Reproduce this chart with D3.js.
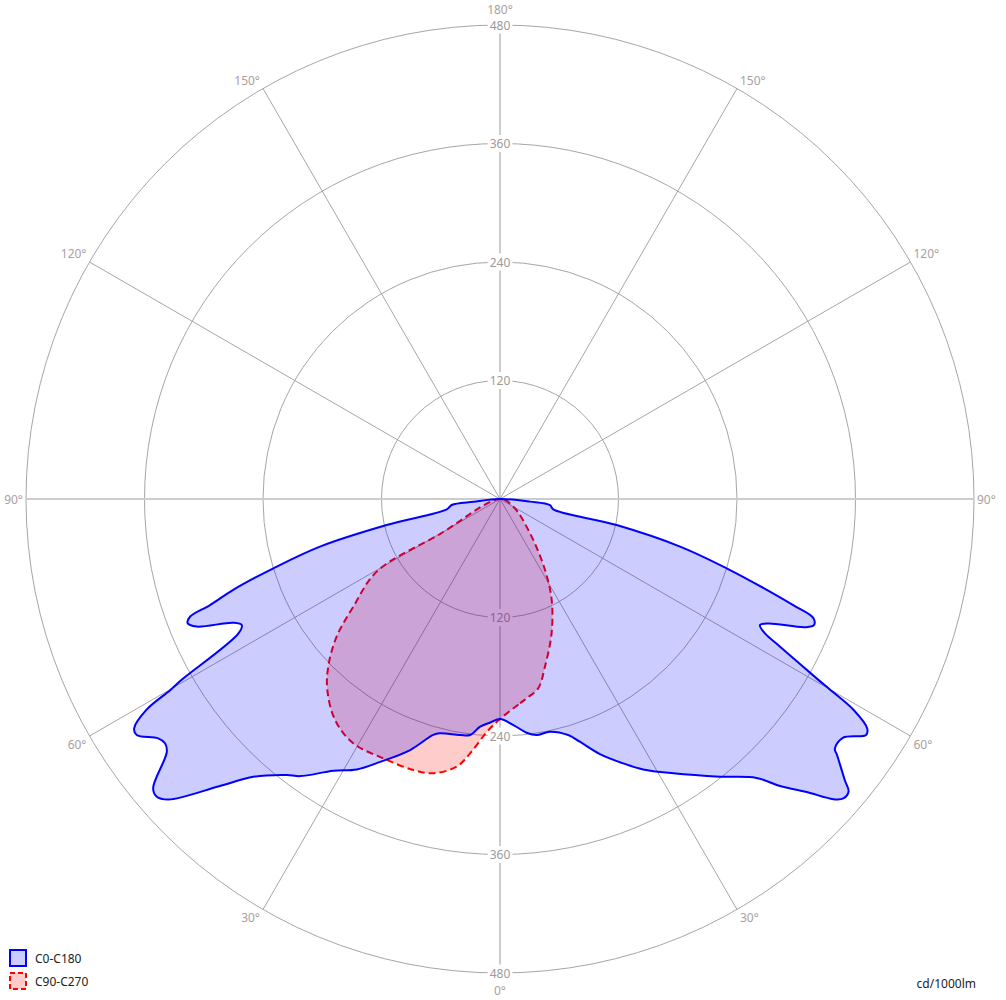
<!DOCTYPE html>
<html>
<head>
<meta charset="utf-8">
<script src="https://cdn.jsdelivr.net/npm/d3@7"></script>
<style>
  body { margin: 0; background: #fff; }
  svg text { font-family: "Noto Sans", "Open Sans", sans-serif; }
</style>
</head>
<body>
<svg id="chart" width="1006" height="1000"></svg>
<script>
// gamma angle in degrees (0 = straight down), intensity in cd/1000lm

// C0 plane (right half of the blue curve)
var c0Gamma  = [0, 3.4, 6.5, 8.8, 12.1, 16.1, 18.2, 21.4, 25, 27.9, 32.3, 38.4, 42.6, 44.3, 46.3, 48, 48.9, 50, 50.8,
                52.8, 53.3, 55.2, 57.2, 58, 59.2, 60, 60.4, 62.2, 63.1, 64.1, 65.1, 67.2, 68.1, 69.2, 70.1, 71.2,
                73, 75.2, 77.4, 79, 83, 85, 90];
var c0Values = [222.8, 229.3, 238.2, 241.9, 241, 248.8, 258.7, 277.4, 295.4, 309.9, 328.6, 358.8, 383.7, 406.1, 429.4, 454.3, 461.3, 460.8, 450.6,
                428.4, 422.9, 423.2, 441, 438.5, 416.7, 385.7, 370.8, 320.6, 300.9, 292.6, 299.4, 335.1, 342.6, 339.4, 315.8, 285.4,
                240, 188.6, 121, 55, 51, 30.5, 0];

// C180 plane (left half of the blue curve)
var c180Gamma  = [0, 2.5, 5, 7.2, 9.6, 14.4, 15.8, 19.7, 24.5, 27.9, 31.5, 35.8, 37.7, 41.6, 44.3, 47.8, 49.1, 50.2,
                  52.8, 53.9, 55, 57, 57.9, 59.2, 59.9, 60.4, 62.8, 64, 65.1, 67.2, 68.3, 69.2, 69.9, 71.2,
                  73, 75.2, 77.1, 79, 82.9, 84, 90];
var c180Values = [222.8, 226.5, 231.4, 240.9, 242.4, 245, 248.3, 270, 292.5, 309.9, 322.8, 346, 353.2, 376.1, 406.1, 453.2, 460.2, 457.2,
                  423.6, 419.8, 422.5, 438.7, 437.4, 416.7, 386.1, 370.8, 297.8, 291, 297.7, 333.3, 340.4, 335.8, 312.7, 285.4,
                  240, 188.6, 117.8, 55, 49.3, 27.1, 0];

// C90 plane (right half of the red curve)
var c90Gamma  = [0, 5.6, 7.6, 11.4, 15, 21, 27.1, 32.4, 41.2, 60, 90];
var c90Values = [222.8, 207.9, 203.6, 195.6, 175.8, 145.7, 114.9, 85.1, 46.2, 15.6, 0];

// C270 plane (left half of the red curve)
var c270Gamma  = [0, 3.3, 6.7, 9.2, 13.7, 17.7, 24.2, 31, 36.7, 42.1, 45.7, 49.9, 53.7, 59.5, 59.7, 90];
var c270Values = [222.8, 236.6, 259.3, 274.6, 285.9, 288.1, 288, 288.6, 279.3, 260.8, 243, 216.3, 184.3, 144.9, 70, 0];

var ringTicks = [120, 240, 360, 480];
var spokeAngles = [0, 30, 60, 90, 120, 150];
var angleLabels = [0, 30, 60, 90, 120, 150, 180];
var seriesNames = ["C0-C180", "C90-C270"];
var unitLabel = "cd/1000lm";

var cx = 500, cy = 499, R = 474;
var svg = d3.select("#chart");

var r = d3.scaleLinear().domain([0, 480]).range([0, R]);
var rad = function (deg) { return deg * Math.PI / 180; };

// convert gamma (0 = down) to screen xy, side +1 right, -1 left
function xy(g, v, side) {
    var rr = r(v);
    return [cx + side * rr * Math.sin(rad(g)), cy + rr * Math.cos(rad(g))];
}

// build one closed outline from a right and a left half-plane
// (left half skips its first and last point, they are shared with the right half)
function outline(gR, vR, gL, vL) {
    var pts = [];
    gR.forEach(function (g, i) { pts.push({ a: Math.PI - rad(g), v: vR[i] }); });
    for (var i = gL.length - 2; i >= 1; i--) {
        pts.push({ a: Math.PI + rad(gL[i]), v: vL[i] });
    }
    return pts;
}

var grid = svg.append("g");

// circles
grid.selectAll("circle").data(ringTicks).enter().append("circle")
    .attr("cx", cx).attr("cy", cy)
    .attr("r", function (d) { return r(d); })
    .attr("fill", "none").attr("stroke", "#a6a6a6").attr("stroke-width", 1);

// spokes through the centre
spokeAngles.forEach(function (a) {
    var p1 = xy(a, 480, 1), p2 = xy(a + 180, 480, 1);
    var main = (a === 0 || a === 90);
    grid.append("line")
        .attr("x1", p1[0]).attr("y1", p1[1]).attr("x2", p2[0]).attr("y2", p2[1])
        .attr("stroke", main ? "#cccccc" : "#a6a6a6")
        .attr("stroke-width", main ? 2 : 1);
});

// ring value labels on the vertical axis (with white background)
var ringLab = svg.append("g");
ringTicks.forEach(function (v) {
    [-1, 1].forEach(function (s) {
        var t = ringLab.append("text")
            .attr("x", cx).attr("y", cy + s * r(v))
            .attr("text-anchor", "middle").attr("dominant-baseline", "central")
            .attr("font-size", 12).attr("fill", "#9a9a9a")
            .text(v);
        var b = t.node().getBBox();
        ringLab.insert("rect", function () { return t.node(); })
            .attr("x", b.x - 2).attr("y", b.y).attr("width", b.width + 4).attr("height", b.height)
            .attr("fill", "#fff");
    });
});

// angle labels outside the outer circle
angleLabels.forEach(function (a) {
    var sides = (a === 0 || a === 180) ? [1] : [-1, 1];
    sides.forEach(function (s) {
        var p = xy(a, 480, s);
        var t = svg.append("text").attr("font-size", 12).attr("fill", "#aaa0a0")
            .attr("dominant-baseline", "central").text(a + "°");
        if (a === 0 || a === 180) {
            t.attr("x", p[0]).attr("y", p[1] + (a === 0 ? 17 : -16)).attr("text-anchor", "middle");
        } else {
            var dy = a < 90 ? 8.5 : (a > 90 ? -8.5 : 0);
            t.attr("x", p[0] + s * 3).attr("y", p[1] + dy)
             .attr("text-anchor", s < 0 ? "end" : "start");
        }
    });
});

var line = d3.lineRadial()
    .angle(function (d) { return d.a; })
    .radius(function (d) { return r(d.v); })
    .curve(d3.curveCatmullRomClosed.alpha(0.5));

var plot = svg.append("g").attr("transform", "translate(" + cx + "," + cy + ")");

// red first, blue drawn on top of it
plot.append("path")
    .attr("d", line(outline(c90Gamma, c90Values, c270Gamma, c270Values)))
    .attr("fill", "rgba(255,0,0,0.2)")
    .attr("stroke", "#ff0000").attr("stroke-width", 2)
    .attr("stroke-dasharray", "7,4")
    .attr("stroke-linejoin", "round");

plot.append("path")
    .attr("d", line(outline(c0Gamma, c0Values, c180Gamma, c180Values)))
    .attr("fill", "rgba(0,0,255,0.2)")
    .attr("stroke", "#0000ff").attr("stroke-width", 2)
    .attr("stroke-linejoin", "round");

// legend
var legend = svg.append("g");
var lgStyle = [
    { fill: "rgba(0,0,255,0.2)", stroke: "#0000ff", dash: null },
    { fill: "rgba(255,0,0,0.2)", stroke: "#ff0000", dash: "5,3" }
];
seriesNames.forEach(function (name, i) {
    var y = 950 + i * 23;
    legend.append("rect")
        .attr("x", 10).attr("y", y).attr("width", 16).attr("height", 16)
        .attr("fill", lgStyle[i].fill).attr("stroke", lgStyle[i].stroke)
        .attr("stroke-width", 2).attr("stroke-dasharray", lgStyle[i].dash);
    legend.append("text")
        .attr("x", 35).attr("y", y + 8.5)
        .attr("dominant-baseline", "central")
        .attr("font-size", 12).attr("fill", "#222")
        .text(name);
});

svg.append("text")
    .attr("x", 976).attr("y", 983)
    .attr("text-anchor", "end").attr("dominant-baseline", "central")
    .attr("font-size", 12).attr("fill", "#222")
    .text(unitLabel);
</script>
</body>
</html>
